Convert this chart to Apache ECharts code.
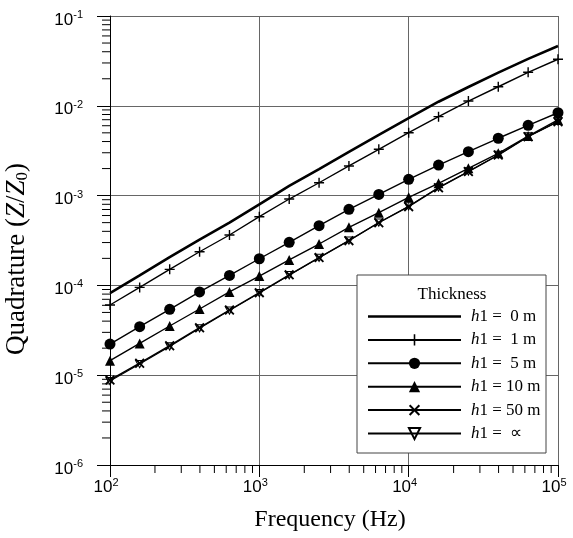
<!DOCTYPE html>
<html><head><meta charset="utf-8">
<script src="https://cdn.jsdelivr.net/npm/echarts@6/dist/echarts.min.js"></script>
<style>html,body{margin:0;padding:0;background:#fff}#c{width:573px;height:538px}</style>
</head><body><div id="c"></div>
<script>
// Frequencies (Hz) at which curves are sampled
const freq = [100,158,251,398,631,1000,1585,2512,3981,6310,10000,15849,25119,39811,63096,100000];
// Quadrature values (Z/Z0) per layer thickness
const h0   = [8.2e-5,1.29e-4,2.06e-4,3.23e-4,5.01e-4,8.0e-4,1.28e-3,1.97e-3,3.06e-3,4.75e-3,7.3e-3,1.11e-2,1.62e-2,2.34e-2,3.33e-2,4.63e-2];
const h1   = [6.05e-5,9.5e-5,1.51e-4,2.37e-4,3.64e-4,5.82e-4,9.16e-4,1.39e-3,2.14e-3,3.28e-3,5.02e-3,7.57e-3,1.13e-2,1.63e-2,2.36e-2,3.3e-2];
const h5   = [2.22e-5,3.47e-5,5.42e-5,8.45e-5,1.29e-4,1.98e-4,3.02e-4,4.62e-4,7.03e-4,1.03e-3,1.52e-3,2.19e-3,3.08e-3,4.35e-3,6.06e-3,8.37e-3];
const h10  = [1.45e-5,2.26e-5,3.53e-5,5.46e-5,8.45e-5,1.27e-4,1.92e-4,2.89e-4,4.43e-4,6.46e-4,9.58e-4,1.37e-3,2.01e-3,2.96e-3,4.61e-3,6.95e-3];
const h50  = [8.85e-6,1.36e-5,2.13e-5,3.38e-5,5.32e-5,8.3e-5,1.31e-4,2.04e-4,3.15e-4,4.99e-4,7.53e-4,1.22e-3,1.85e-3,2.83e-3,4.53e-3,6.65e-3];
const hInf = [8.6e-6,1.33e-5,2.09e-5,3.33e-5,5.25e-5,8.2e-5,1.3e-4,2.03e-4,3.16e-4,5.0e-4,7.6e-4,1.23e-3,1.86e-3,2.84e-3,4.55e-3,6.7e-3];
// Series names
const names = ['h1 =  0 m','h1 =  1 m','h1 =  5 m','h1 = 10 m','h1 = 50 m','h1 =  \u221D'];
// Minor tick positions
const xMinor = [200,300,400,500,600,700,800,900,2000,3000,4000,5000,6000,7000,8000,9000,20000,30000,40000,50000,60000,70000,80000,90000];
const yMinor = [2e-6,3e-6,4e-6,5e-6,6e-6,7e-6,8e-6,9e-6,2e-5,3e-5,4e-5,5e-5,6e-5,7e-5,8e-5,9e-5,2e-4,3e-4,4e-4,5e-4,6e-4,7e-4,8e-4,9e-4,2e-3,3e-3,4e-3,5e-3,6e-3,7e-3,8e-3,9e-3,2e-2,3e-2,4e-2,5e-2,6e-2,7e-2,8e-2,9e-2];

const SERIF = 'Liberation Serif';
const SANS = 'Liberation Sans';
const PLUS = 'path://M4.3,0H5.7V10H4.3Z M0,4.3H10V5.7H0Z';
const CROSS = 'path://M0,1.3L1.3,0L5,3.7L8.7,0L10,1.3L6.3,5L10,8.7L8.7,10L5,6.3L1.3,10L0,8.7L3.7,5Z';
const INVTRI = 'path://M0,0L10,0L5,9Z';
const THICKLINE = 'path://M0,0H93V2.6H0Z';

function lineS(name, vals, symbol, size, lw, itemStyle, z) {
  return {
    name, type: 'line', data: freq.map((f, i) => [f, vals[i]]),
    symbol, symbolSize: size, symbolKeepAspect: true, showSymbol: symbol !== 'none',
    lineStyle: { color: '#000', width: lw }, itemStyle, z: z || 2, animation: false, silent: true
  };
}
function tickSeries(data, dir) {
  return {
    type: 'custom', silent: true, clip: false, z: 3, animation: false,
    data: data.map(v => dir === 'x' ? [v, 1e-6] : [100, v]),
    renderItem: (params, api) => {
      const p = api.coord([api.value(0), api.value(1)]);
      const shape = dir === 'x'
        ? { x1: p[0], y1: p[1], x2: p[0], y2: p[1] + 8 }
        : { x1: p[0] - 8, y1: p[1], x2: p[0], y2: p[1] };
      return { type: 'line', shape, style: { stroke: '#000', lineWidth: 1 } };
    }
  };
}
const supFmt = v => '{b|10}{s|' + Math.round(Math.log10(v)) + '}';
const supRich = {
  b: { fontFamily: SANS, fontSize: 17, color: '#000', verticalAlign: 'bottom' },
  s: { fontFamily: SANS, fontSize: 11, color: '#000', verticalAlign: 'bottom', padding: [0, 0, 8, 0] }
};

const chart = echarts.init(document.getElementById('c'), null, { renderer: 'canvas' });
chart.setOption({
  backgroundColor: '#fff',
  animation: false,
  grid: { left: 110, right: 15, top: 16, bottom: 73, containLabel: false },
  xAxis: {
    type: 'log', logBase: 10, min: 100, max: 100000,
    axisLine: { show: true, onZero: false, lineStyle: { color: '#000', width: 1 } },
    axisTick: { show: true, length: 12, lineStyle: { color: '#000' } },
    splitLine: { show: true, lineStyle: { color: '#666', width: 1 } },
    axisLabel: { margin: 12, formatter: supFmt, rich: supRich, padding: [0, 8, 0, 0] }
  },
  yAxis: {
    type: 'log', logBase: 10, min: 1e-6, max: 1e-1,
    axisLine: { show: true, onZero: false, lineStyle: { color: '#000', width: 1 } },
    axisTick: { show: true, length: 13, lineStyle: { color: '#000' } },
    splitLine: { show: true, lineStyle: { color: '#666', width: 1 } },
    axisLabel: { margin: 27, formatter: supFmt, rich: supRich, padding: [6, 0, 0, 0] }
  },
  legend: {
    orient: 'vertical', left: 367, top: 308, itemWidth: 93, itemHeight: 14, itemGap: 6.4,
    padding: 0, z: 10, selectedMode: false,
    data: [{ name: names[0], icon: THICKLINE }].concat(names.slice(1)),
    formatter: n => '{i|h}' + n.slice(1),
    textStyle: {
      fontFamily: SERIF, fontSize: 17, lineHeight: 16, color: '#000',
      rich: { i: { fontFamily: SERIF, fontStyle: 'italic', fontSize: 17, lineHeight: 16, color: '#000', padding: [0, 0, 0, 5] } }
    }
  },
  graphic: [
    { type: 'rect', z: 5, shape: { x: 357, y: 275, width: 189, height: 178 },
      style: { fill: '#fff', stroke: '#444', lineWidth: 1 } },
    { type: 'text', z: 11, x: 452, y: 295,
      style: { text: 'Thickness', fontFamily: SERIF, fontSize: 17, fill: '#000', align: 'center', verticalAlign: 'middle' } },
    { type: 'text', z: 11, x: 330, y: 520,
      style: { text: 'Frequency (Hz)', fontFamily: SERIF, fontSize: 24, fill: '#000', align: 'center', verticalAlign: 'middle' } },
    { type: 'text', z: 11, x: 17, y: 259, rotation: Math.PI / 2,
      style: {
        text: 'Quadrature ({i|Z}/{i|Z}{sub|0})', fontFamily: SERIF, fontSize: 27, fill: '#000',
        align: 'center', verticalAlign: 'middle',
        rich: {
          i: { fontFamily: SERIF, fontStyle: 'italic', fontSize: 27, color: '#000' },
          sub: { fontFamily: SERIF, fontSize: 17, color: '#000', verticalAlign: 'top', padding: [11, 0, 0, 0] }
        }
      } }
  ],
  series: [
    lineS(names[0], h0, 'none', 0, 2.6, { color: '#000' }),
    lineS(names[1], h1, PLUS, 10, 1.4, { color: '#000', borderWidth: 0 }),
    lineS(names[2], h5, 'circle', 11, 1.4, { color: '#000', borderWidth: 0 }),
    lineS(names[3], h10, 'triangle', 10, 1.4, { color: '#000', borderWidth: 0 }),
    lineS(names[4], h50, CROSS, 10, 1.4, { color: '#000', borderWidth: 0 }, 3),
    lineS(names[5], hInf, INVTRI, 8, 1.1, { color: 'rgba(255,255,255,0)', borderColor: '#000', borderWidth: 1.1 }, 2),
    tickSeries(xMinor, 'x'),
    tickSeries(yMinor, 'y')
  ]
});
</script></body></html>
